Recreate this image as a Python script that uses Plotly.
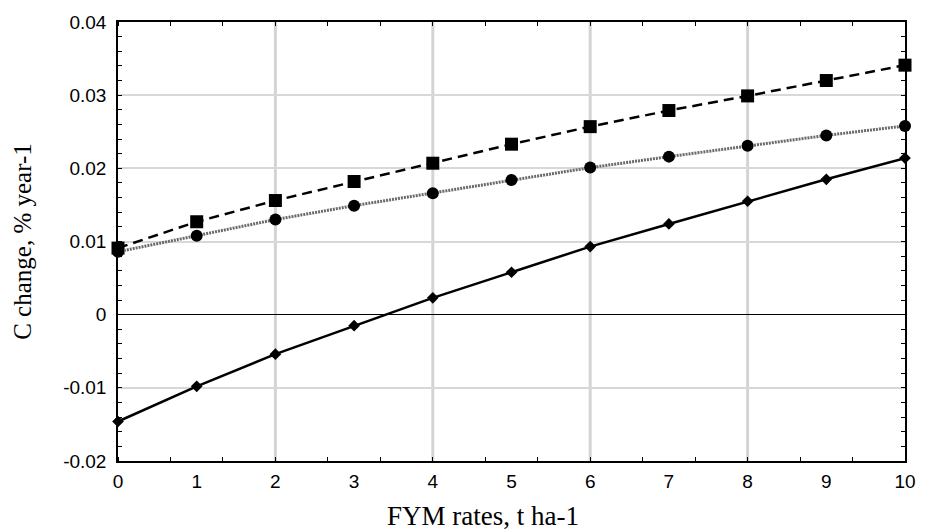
import plotly.graph_objects as go

fym = [0, 1, 2, 3, 4, 5, 6, 7, 8, 9, 10]
series_squares = [0.0091, 0.0127, 0.0156, 0.0182, 0.0207, 0.0233, 0.0257, 0.0279, 0.0299, 0.0320, 0.0341]
series_circles = [0.0086, 0.0108, 0.0130, 0.0149, 0.0166, 0.0184, 0.0201, 0.0216, 0.0231, 0.0245, 0.0258]
series_diamonds = [-0.0146, -0.0098, -0.0054, -0.0015, 0.0023, 0.0058, 0.0093, 0.0124, 0.0155, 0.0185, 0.0214]

x_ticks = list(range(0, 11))
x_grid = [2, 4, 6, 8]
y_ticks = [-0.02, -0.01, 0, 0.01, 0.02, 0.03, 0.04]
y_labels = ["-0.02", "-0.01", "0", "0.01", "0.02", "0.03", "0.04"]

serif = "Liberation Serif, Times New Roman, serif"

fig = go.Figure()

fig.add_trace(go.Scatter(
    x=fym, y=series_squares, mode="lines+markers",
    line=dict(color="black", width=2.5, dash="10px,6px"),
    marker=dict(symbol="square", size=13, color="black"),
    showlegend=False, cliponaxis=False))
fig.add_trace(go.Scatter(
    x=fym, y=series_circles, mode="lines+markers",
    line=dict(color="#6a6a6a", width=3, dash="2px,1px"),
    marker=dict(symbol="circle", size=12, color="black"),
    showlegend=False, cliponaxis=False))
fig.add_trace(go.Scatter(
    x=fym, y=series_diamonds, mode="lines+markers",
    line=dict(color="black", width=2.5),
    marker=dict(symbol="diamond", size=9, color="black"),
    showlegend=False, cliponaxis=False))

for gx in x_grid:
    fig.add_vline(x=gx, line=dict(color="#d4d4d4", width=3), layer="below")

fig.add_annotation(
    text="FYM rates, t ha-1", xref="paper", yref="paper",
    x=0.4636, y=-0.125, xanchor="center", yanchor="middle", showarrow=False,
    font=dict(family=serif, size=27, color="black"))

fig.update_layout(
    width=928, height=530,
    margin=dict(l=118, r=14, t=20, b=69),
    paper_bgcolor="white", plot_bgcolor="white",
    font=dict(family="Liberation Sans, Arial", size=19, color="black"),
    xaxis=dict(
        range=[0, 10], tickvals=x_ticks, ticktext=[str(v) for v in x_ticks],
        showgrid=False, zeroline=False,
        showline=True, linecolor="black", linewidth=1.5, mirror="allticks",
        ticks="", ticklabelstandoff=2,
        minor=dict(dtick=2/3, tick0=0, ticks="inside", ticklen=4, tickcolor="black", showgrid=False),
    ),
    yaxis=dict(
        range=[-0.02, 0.04], tickvals=y_ticks, ticktext=y_labels,
        showgrid=True, gridcolor="#d8d8d8", gridwidth=2,
        zeroline=True, zerolinecolor="black", zerolinewidth=1.2,
        showline=True, linecolor="black", linewidth=1.5, mirror="allticks",
        ticks="inside", ticklen=4, tickcolor="black", ticklabelstandoff=6,
        minor=dict(dtick=0.002, tick0=0, ticks="inside", ticklen=4, tickcolor="black", showgrid=False),
        title=dict(text="C change, % year-1", font=dict(family=serif, size=25), standoff=24),
    ),
)

fig.write_html("out.html")
